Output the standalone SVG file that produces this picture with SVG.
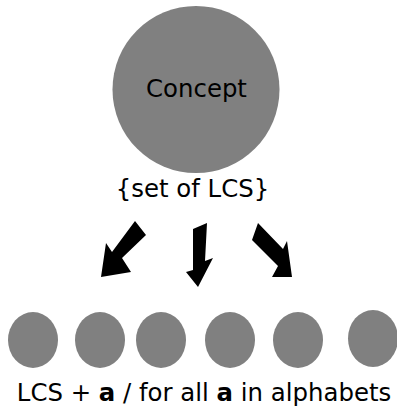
<svg xmlns="http://www.w3.org/2000/svg" width="397" height="406" viewBox="0 0 397 406">
<style>
.node{fill:#808080}
.t{font-family:"DejaVu Sans",sans-serif;font-size:24.4px;fill:#000}
.arrow{fill:#000}
</style>
<rect width="397" height="406" fill="#fff"/>
<g id="concept">
<circle class="node" cx="196" cy="89.5" r="83.5"/>
<text class="t" x="196.5" y="97" text-anchor="middle">Concept</text>
</g>
<g id="set-label">
<text class="t" x="192.5" y="197" text-anchor="middle">{set of LCS}</text>
</g>
<g id="connectors">
<polygon class="arrow" points="135,221 146,235 122,258 131,272 101,277 106,243 112,252"/>
<polygon class="arrow" points="193,229 207,223 205,261 213,258 198,287 186,272 193,270"/>
<polygon class="arrow" points="258,223 283,249 287,241 292,277 272,277 278,266 252,240"/>
</g>
<g id="child1"><ellipse class="node" cx="33" cy="340" rx="25" ry="28"/></g>
<g id="child2"><ellipse class="node" cx="100" cy="340" rx="25" ry="28"/></g>
<g id="child3"><ellipse class="node" cx="161" cy="340" rx="25" ry="28"/></g>
<g id="child4"><ellipse class="node" cx="230" cy="340" rx="25" ry="28"/></g>
<g id="child5"><ellipse class="node" cx="298" cy="340" rx="25" ry="28"/></g>
<g id="child6"><ellipse class="node" cx="373" cy="338.5" rx="25" ry="28.5"/></g>
<g id="children-label">
<text class="t" x="204" y="401" text-anchor="middle">LCS + <tspan font-weight="bold">a</tspan> / for all <tspan font-weight="bold">a</tspan> in alphabets</text>
</g>
</svg>
